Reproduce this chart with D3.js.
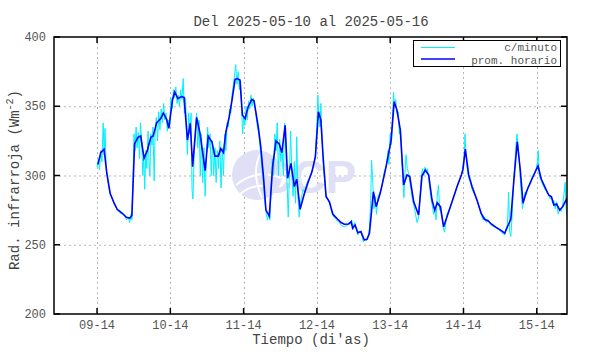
<!DOCTYPE html>
<html><head><meta charset="utf-8">
<script src="https://cdn.jsdelivr.net/npm/d3@7"></script>
<style>body{margin:0;background:#fff}svg{display:block}text{font-family:"Liberation Mono","DejaVu Sans Mono",monospace}</style>
</head><body><svg id="c" width="590" height="354"></svg>
<script>
const title = "Del 2025-05-10 al 2025-05-16";
const tickHours = [0,24,48,72,96,120,144];
const tickLabels = ["09-14","10-14","11-14","12-14","13-14","14-14","15-14"];
const yTicks = [200,250,300,350,400];
// hourly mean (hours since first tick, value W/m2)
const hourlyT = [0.3,1.2,2.3,3.2,4.3,5.6,6.6,8.3,9.6,10.7,11.4,12.3,13.4,14.3,15.4,16.5,17.6,18.4,19.5,20.9,21.7,22.8,23.5,24.7,25.4,26.5,27.6,28.5,29.6,30.5,31.3,32.6,33.7,35.4,36.4,37.6,38.6,39.7,40.5,41.4,42.2,43.3,44.2,45.2,45.9,46.8,47.6,48.5,49.5,50.7,51.4,52.8,53.6,54.5,55.3,56.4,57.5,58.6,59.7,60.5,61.6,62.4,63.5,64.6,65.4,66.5,67.9,69.0,70.4,71.5,72.5,73.3,74.1,75.0,76.1,77.2,78.8,79.9,81.0,82.4,83.2,83.7,84.5,85.4,86.4,87.5,88.4,89.2,90.5,91.4,92.7,93.7,94.8,96.3,97.3,98.2,99.3,100.4,101.5,102.4,103.7,105.3,106.4,107.5,108.6,109.7,110.6,111.4,112.4,113.5,114.6,115.7,116.8,117.9,119.3,119.8,120.6,121.7,122.8,124.4,125.8,126.9,128.0,129.1,130.7,132.4,133.5,134.4,135.5,136.5,137.6,138.6,139.5,140.6,142.0,143.3,144.4,145.5,146.6,147.9,148.8,149.6,150.5,151.5,152.5,153.7,154.3];
const hourlyV = [308,316.5,319,301.6,287,280,275.6,272.7,269.8,269.3,271,323,327.6,328.5,312.4,318.4,327.6,328.5,338,341.3,345,340.6,334,354.5,360.3,355.5,357,356.4,325.6,337.7,306.4,342,330.5,303.5,328.5,324.4,314,314,319.4,316.5,331.6,342.5,354.5,369.4,370,369,343.7,341,349.7,355,354,335,321,299,275,270.7,306.4,325,322.7,316.5,336.2,298,308.8,292,297.3,275.6,287,294.4,302.8,313.6,346,340,311.2,284.7,281,272.2,268.4,266,264.8,265,266.7,262,264.3,258.7,259.5,253.5,254,258.3,288.3,277.5,287,296.7,308,325.6,353.3,347.3,332.9,293.1,300.4,299.2,281,271.5,299.6,304,300.4,282.3,275,280.4,277.5,263,270.3,277.5,284.7,292,300.4,304,319,300.4,292,282.3,272.7,268.4,267.4,265,262.6,260.2,258.3,263,268.4,296.7,324.4,304,280,288.3,295.5,301.6,306.9,297.3,292,285.9,284.7,278.7,279.4,275,277.5,282.8,277];
// per-minute readings
const minuteT = [0.0,0.4,0.8,1.2,1.6,2.0,2.3,2.6,3.0,3.4,3.8,4.3,5,5.6,6.6,7.5,8.3,9,9.6,10.2,10.7,11.1,11.4,11.8,12.1,12.4,12.8,13.1,13.5,13.9,14.2,14.6,15,15.3,15.6,16,16.3,16.7,17,17.3,17.6,18,18.3,18.7,19,19.4,19.8,20.2,20.6,21,21.4,21.8,22.2,22.6,23,23.4,23.8,24.2,24.6,25,25.4,25.8,26.2,26.6,27,27.4,27.8,28.2,28.6,29,29.3,29.6,30,30.4,30.8,31.1,31.4,31.8,32.2,32.6,33,33.4,33.8,34.2,34.6,35,35.4,35.8,36.2,36.6,37,37.4,37.8,38.2,38.6,39,39.4,39.8,40.2,40.6,41,41.4,41.8,42.2,42.6,43,43.4,43.8,44.2,44.6,45,45.4,45.8,46.2,46.6,47,47.4,47.7,48,48.4,48.8,49.2,49.6,50,50.4,50.8,51.2,51.6,52,52.5,53,53.5,54,54.5,55,55.4,55.8,56.2,56.6,57,57.4,57.8,58.2,58.6,59,59.4,59.8,60.2,60.6,61,61.4,61.7,62,62.3,62.6,63,63.4,63.8,64.2,64.6,65,65.4,65.8,66.2,66.6,67,67.5,68,68.5,69,69.5,70,70.5,71,71.5,72,72.3,72.6,73,73.3,73.6,74,74.4,75,75.6,76.1,76.6,77.2,78,78.8,79.4,80,81,82,82.4,83,83.4,83.8,84.3,84.8,85.4,86,86.6,87.2,87.8,88.2,88.8,89.2,89.6,89.9,90.3,90.7,91.1,91.5,92,92.7,93.3,94,94.5,95,95.3,95.6,96,96.4,96.8,97.1,97.4,97.8,98.2,98.6,99,99.4,99.8,100.2,100.5,100.8,101.2,101.6,102,102.4,102.8,103.3,103.8,104.3,104.8,105.3,105.8,106.2,106.6,107,107.4,107.8,108.2,108.6,109,109.4,109.8,110.2,110.6,111,111.4,111.8,112.2,112.6,113,113.4,113.8,114.2,114.6,115.7,116.8,117.9,119.3,119.8,120.2,120.5,120.8,121.2,121.7,122.3,122.8,124.4,125.8,126.4,126.9,127.5,128,129.1,130,130.7,131.5,132.4,133,133.5,134,134.4,134.8,135.1,135.5,135.9,136.3,136.7,137.1,137.5,137.9,138.3,138.6,139,139.3,139.7,140.2,140.6,141.2,142,142.6,143.3,143.8,144.2,144.5,144.8,145.5,146.2,147,147.9,148.4,148.8,149.2,149.6,150,150.5,151,151.5,152,152.5,153,153.3,153.6,154,154.4];
const minuteV = [306,312,304,318,310,338,315,334,305,300,292,287,283,280,275,273,272,271,268,270,266,272,268,300,330,318,335,320,331,312,338,325,300,315,290,318,305,332,310,300,330,322,335,296,330,342,325,346,333,348,338,352,340,345,332,340,335,356,348,362,356,364,352,358,350,362,355,370,345,356,330,315,345,330,345,290,283,315,330,345,320,340,300,330,295,320,285,312,335,320,330,300,325,300,320,295,318,305,325,291,320,300,330,318,338,335,348,345,358,365,372,380,366,375,362,368,345,330,343,336,350,340,354,348,358,350,356,350,345,335,330,318,305,295,280,272,268,272,268,290,312,300,330,318,338,300,326,310,320,300,338,333,305,290,270,300,332,300,285,310,280,328,285,270,280,285,290,288,293,296,298,300,305,308,315,338,358,345,335,352,330,312,300,286,283,280,276,271,269,267,266,264,263,264,266,265,268,261,266,262,257,260,258,252,254,253,256,262,280,311,295,276,285,272,285,288,292,302,305,312,318,308,330,322,345,360,350,355,345,346,330,334,312,295,284,300,315,305,302,296,290,282,278,272,266,270,285,300,305,300,306,302,305,298,290,283,278,272,276,268,285,293,275,278,270,262,259,266,272,277,285,292,300,306,312,330,315,305,298,295,290,283,272,268,270,266,268,264,263,262,261,259,258,257,262,265,288,260,256,270,290,305,318,330,322,310,298,285,276,282,288,286,292,294,300,302,305,310,318,300,296,292,289,286,283,285,280,282,276,281,272,276,274,279,288,295,276,270,278];

const svg = d3.select("#c");
const L=54,R=567,T=37,B=314;
const x = d3.scaleLinear().domain([-14.1,153.9]).range([L,R]);
const y = d3.scaleLinear().domain([200,400]).range([B,T]);

svg.append("defs").append("clipPath").attr("id","clip").append("rect")
  .attr("x",L).attr("y",T).attr("width",R-L).attr("height",B-T);

// grid
const grid = svg.append("g").attr("stroke","#b4b4b4").attr("stroke-dasharray","2,3").attr("stroke-width",1);
yTicks.slice(1,-1).forEach(v=>grid.append("line").attr("x1",L).attr("x2",R).attr("y1",y(v)+0.5).attr("y2",y(v)+0.5));
tickHours.forEach(h=>grid.append("line").attr("y1",T).attr("y2",B).attr("x1",Math.round(x(h))+0.5).attr("x2",Math.round(x(h))+0.5));

// watermark
const wm = svg.append("g");
wm.append("circle").attr("cx",257).attr("cy",175).attr("r",25).attr("fill","#dfdff5");
wm.append("path").attr("d","M236,185 Q257,168 281,178").attr("stroke","#fff").attr("stroke-width",2).attr("fill","none");
wm.append("path").attr("d","M240,194 Q258,180 277,190").attr("stroke","#fff").attr("stroke-width",2).attr("fill","none");
wm.append("path").attr("d","M262,151 Q250,170 262,198").attr("stroke","#fff").attr("stroke-width",2).attr("fill","none");
wm.append("text").attr("x",259).attr("y",193)
  .attr("font-weight","bold").attr("font-size",46).attr("fill","#dfdff5").style("font-family","'Liberation Sans', Arial, sans-serif").text("CCP");

const plot = svg.append("g").attr("clip-path","url(#clip)");
const minute = minuteT.map((t,i)=>[t,minuteV[i]]);
const hourly = hourlyT.map((t,i)=>[t,hourlyV[i]]);
const line = d3.line().x(d=>x(d[0])).y(d=>y(d[1]));
plot.append("path").datum(minute).attr("d",line).attr("fill","none").attr("stroke","#00f0ff").attr("stroke-width",1);
plot.append("path").datum(hourly).attr("d",line).attr("fill","none").attr("stroke","#0000ff").attr("stroke-width",1.6);

// frame
svg.append("rect").attr("x",L).attr("y",T).attr("width",R-L).attr("height",B-T)
  .attr("fill","none").attr("stroke","#000").attr("stroke-width",1.5);

// ticks
const tk = svg.append("g").attr("stroke","#000").attr("stroke-width",1.5);
yTicks.forEach(v=>{
  tk.append("line").attr("x1",L).attr("x2",L+6).attr("y1",y(v)).attr("y2",y(v));
  tk.append("line").attr("x1",R-6).attr("x2",R).attr("y1",y(v)).attr("y2",y(v));
});
tickHours.forEach(h=>{
  tk.append("line").attr("x1",x(h)).attr("x2",x(h)).attr("y1",B).attr("y2",B-6);
  tk.append("line").attr("x1",x(h)).attr("x2",x(h)).attr("y1",T).attr("y2",T+6);
});

// labels
const lab = svg.append("g").attr("fill","#555").attr("font-size",12);
yTicks.forEach(v=>lab.append("text").attr("x",46).attr("y",y(v)+4).attr("text-anchor","end").text(v));
tickHours.forEach((h,i)=>lab.append("text").attr("x",x(h)).attr("y",329).attr("text-anchor","middle").text(tickLabels[i]));

svg.append("text").attr("x",311).attr("y",26).attr("text-anchor","middle").attr("font-size",14).attr("fill","#444").text(title);
svg.append("text").attr("x",311).attr("y",344).attr("text-anchor","middle").attr("font-size",14).attr("fill","#444").text("Tiempo (di'as)");
const yt = svg.append("text").attr("transform","translate(19,180) rotate(-90)").attr("text-anchor","middle").attr("font-size",14).attr("fill","#444");
yt.append("tspan").text("Rad. infrarroja (Wm");
yt.append("tspan").attr("dy",-6).attr("font-size",10).text("-2");
yt.append("tspan").attr("dy",6).text(")");

// legend
const lg = svg.append("g");
lg.append("rect").attr("x",413.5).attr("y",40.5).attr("width",147).attr("height",26).attr("fill","#fff").attr("stroke","#000").attr("stroke-width",1);
lg.append("line").attr("x1",421).attr("x2",455).attr("y1",47.5).attr("y2",47.5).attr("stroke","#00f0ff").attr("stroke-width",1);
lg.append("line").attr("x1",421).attr("x2",455).attr("y1",59).attr("y2",59).attr("stroke","#0000ff").attr("stroke-width",1.6);
lg.append("text").attr("x",557).attr("y",51).attr("text-anchor","end").attr("font-size",11).attr("fill","#555").text("c/minuto");
lg.append("text").attr("x",557).attr("y",63.5).attr("text-anchor","end").attr("font-size",11).attr("fill","#555").text("prom. horario");
</script></body></html>
